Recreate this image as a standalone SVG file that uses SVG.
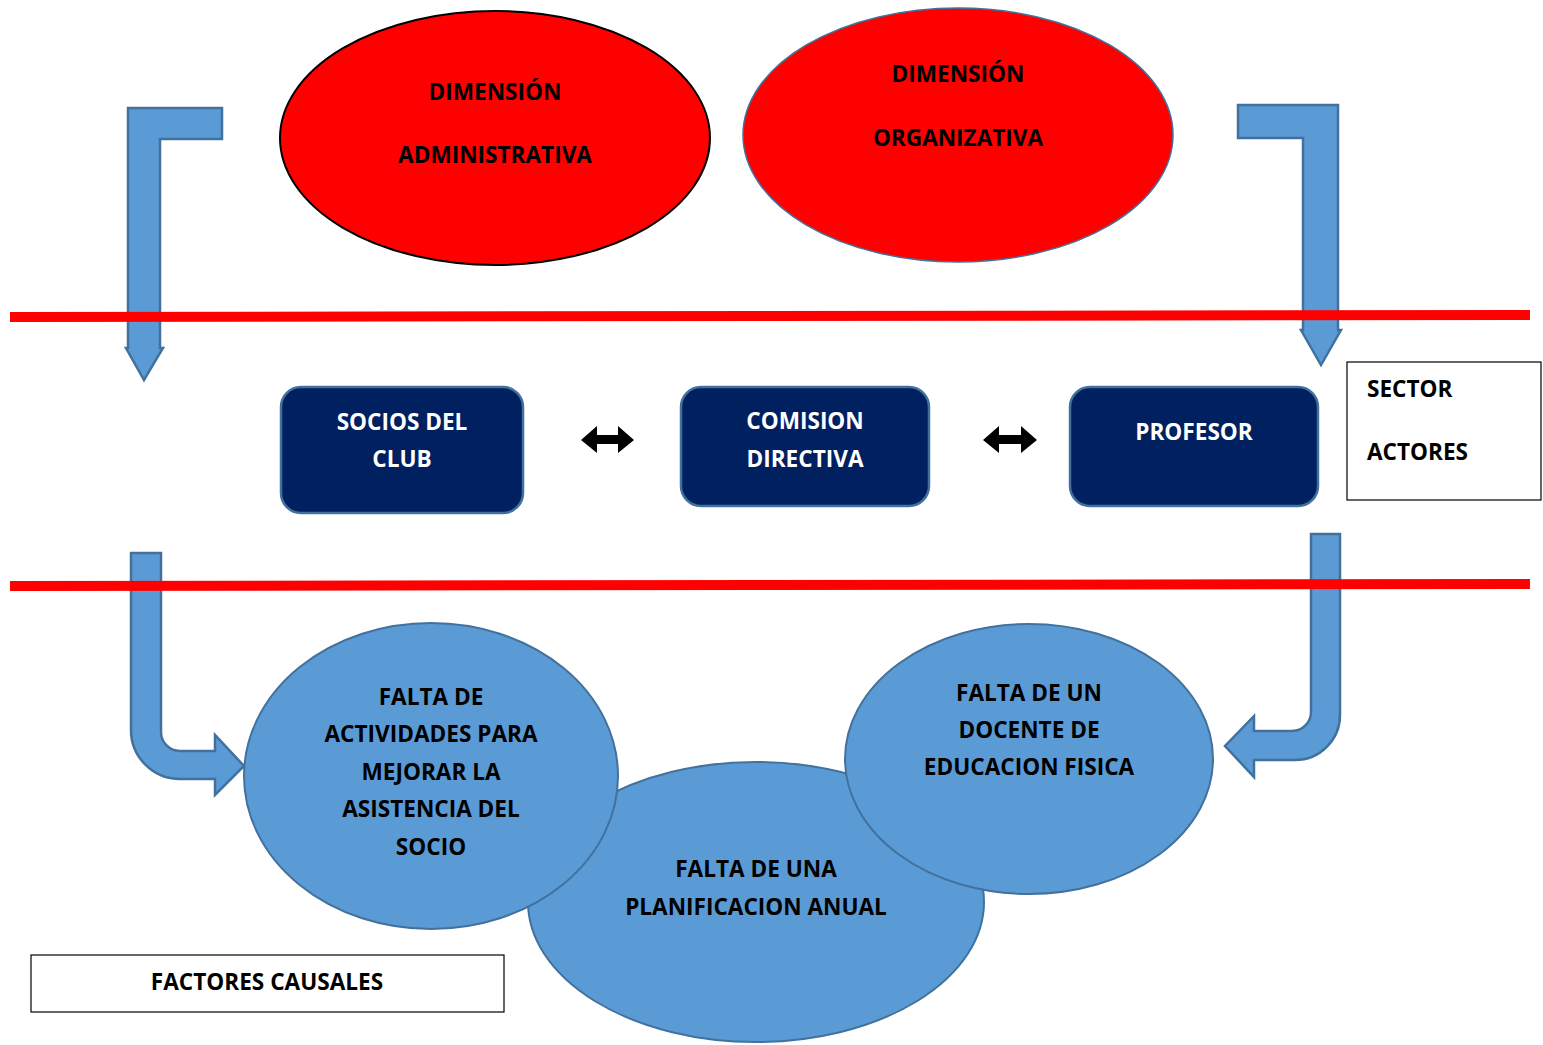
<svg xmlns="http://www.w3.org/2000/svg" width="1543" height="1045" viewBox="0 0 1543 1045">
<style>
text{font-family:"Open Sans",Lato,"Liberation Sans",sans-serif;font-weight:bold;font-size:22.6px;text-anchor:middle;fill:#000}
.w{fill:#fff}
.l{text-anchor:start}
.dim{fill:#FF0000}
.box{fill:#002060;stroke:#41719C;stroke-width:2.5}
.cause{fill:#5B9BD5;stroke:#41719C;stroke-width:2}
.arr{fill:#5B9BD5;stroke:#41719C;stroke-width:2.5;stroke-linejoin:miter}
.dbl{fill:#000}
.sep{stroke:#FF0000;stroke-width:10;fill:none}
.lbl{fill:#fff;stroke:#000;stroke-width:1.2}
</style>
<rect width="1543" height="1045" fill="#fff"/>
<g id="dim-admin">
<ellipse class="dim" cx="495" cy="138" rx="215" ry="127" stroke="#000" stroke-width="2"/>
<text x="495" y="100">DIMENSIÓN</text>
<text x="495" y="163">ADMINISTRATIVA</text>
</g>
<g id="dim-org">
<ellipse class="dim" cx="958" cy="135" rx="215" ry="127" stroke="#41719C" stroke-width="1.5"/>
<text x="958" y="82">DIMENSIÓN</text>
<text x="958" y="146">ORGANIZATIVA</text>
</g>
<g id="connectors">
<path class="arr" d="M222,108 L128,108 L128,348 L126,348 L144,380 L163,348 L160,348 L160,139 L222,139 Z"/>
<path class="arr" d="M1238,105 L1338,105 L1338,330 L1341,330 L1321,365 L1301,330 L1303,330 L1303,138 L1238,138 Z"/>
<path class="arr" d="M131,553 L161,553 L161,732 A19,19 0 0 0 180,751 L215,751 L215,735 L244,766 L215,795 L215,779 L180,779 A49,49 0 0 1 131,730 Z"/>
<path class="arr" d="M1311,534 L1340,534 L1340,715 A45,45 0 0 1 1295,760 L1254,760 L1254,777 L1225,746 L1254,716 L1254,731 L1292,731 A19,19 0 0 0 1311,712 Z"/>
<path class="dbl" d="M581,440 L597,426 L597,435 L618,435 L618,426 L634,440 L618,453 L618,444 L597,444 L597,453 Z"/>
<path class="dbl" d="M983,440 L999,426 L999,435 L1021,435 L1021,426 L1037,440 L1021,453 L1021,444 L999,444 L999,453 Z"/>
</g>
<g id="separators">
<line class="sep" x1="10" y1="317" x2="1530" y2="315"/>
<line class="sep" x1="10" y1="586" x2="1530" y2="584"/>
</g>
<g id="socios">
<rect class="box" x="281" y="387" width="242" height="126" rx="20"/>
<text class="w" x="402" y="430">SOCIOS DEL</text>
<text class="w" x="402" y="467">CLUB</text>
</g>
<g id="comision">
<rect class="box" x="681" y="387" width="248" height="119" rx="20"/>
<text class="w" x="805" y="429">COMISION</text>
<text class="w" x="805" y="467">DIRECTIVA</text>
</g>
<g id="profesor">
<rect class="box" x="1070" y="387" width="248" height="119" rx="20"/>
<text class="w" x="1194" y="440">PROFESOR</text>
</g>
<g id="sector-actores">
<rect class="lbl" x="1347" y="362" width="194" height="138"/>
<text class="l" x="1367" y="397">SECTOR</text>
<text class="l" x="1367" y="460">ACTORES</text>
</g>
<g id="falta-planificacion">
<ellipse class="cause" cx="756" cy="902" rx="228" ry="140"/>
<text x="756" y="877">FALTA DE UNA</text>
<text x="756" y="915">PLANIFICACION ANUAL</text>
</g>
<g id="falta-actividades">
<ellipse class="cause" cx="431" cy="776" rx="187" ry="153"/>
<text x="431" y="705">FALTA DE</text>
<text x="431" y="742">ACTIVIDADES PARA</text>
<text x="431" y="780">MEJORAR LA</text>
<text x="431" y="817">ASISTENCIA DEL</text>
<text x="431" y="855">SOCIO</text>
</g>
<g id="falta-docente">
<ellipse class="cause" cx="1029" cy="759" rx="184" ry="135"/>
<text x="1029" y="701">FALTA DE UN</text>
<text x="1029" y="738">DOCENTE DE</text>
<text x="1029" y="775">EDUCACION FISICA</text>
</g>
<g id="factores-causales">
<rect class="lbl" x="31" y="955" width="473" height="57"/>
<text x="267" y="990">FACTORES CAUSALES</text>
</g>
</svg>
